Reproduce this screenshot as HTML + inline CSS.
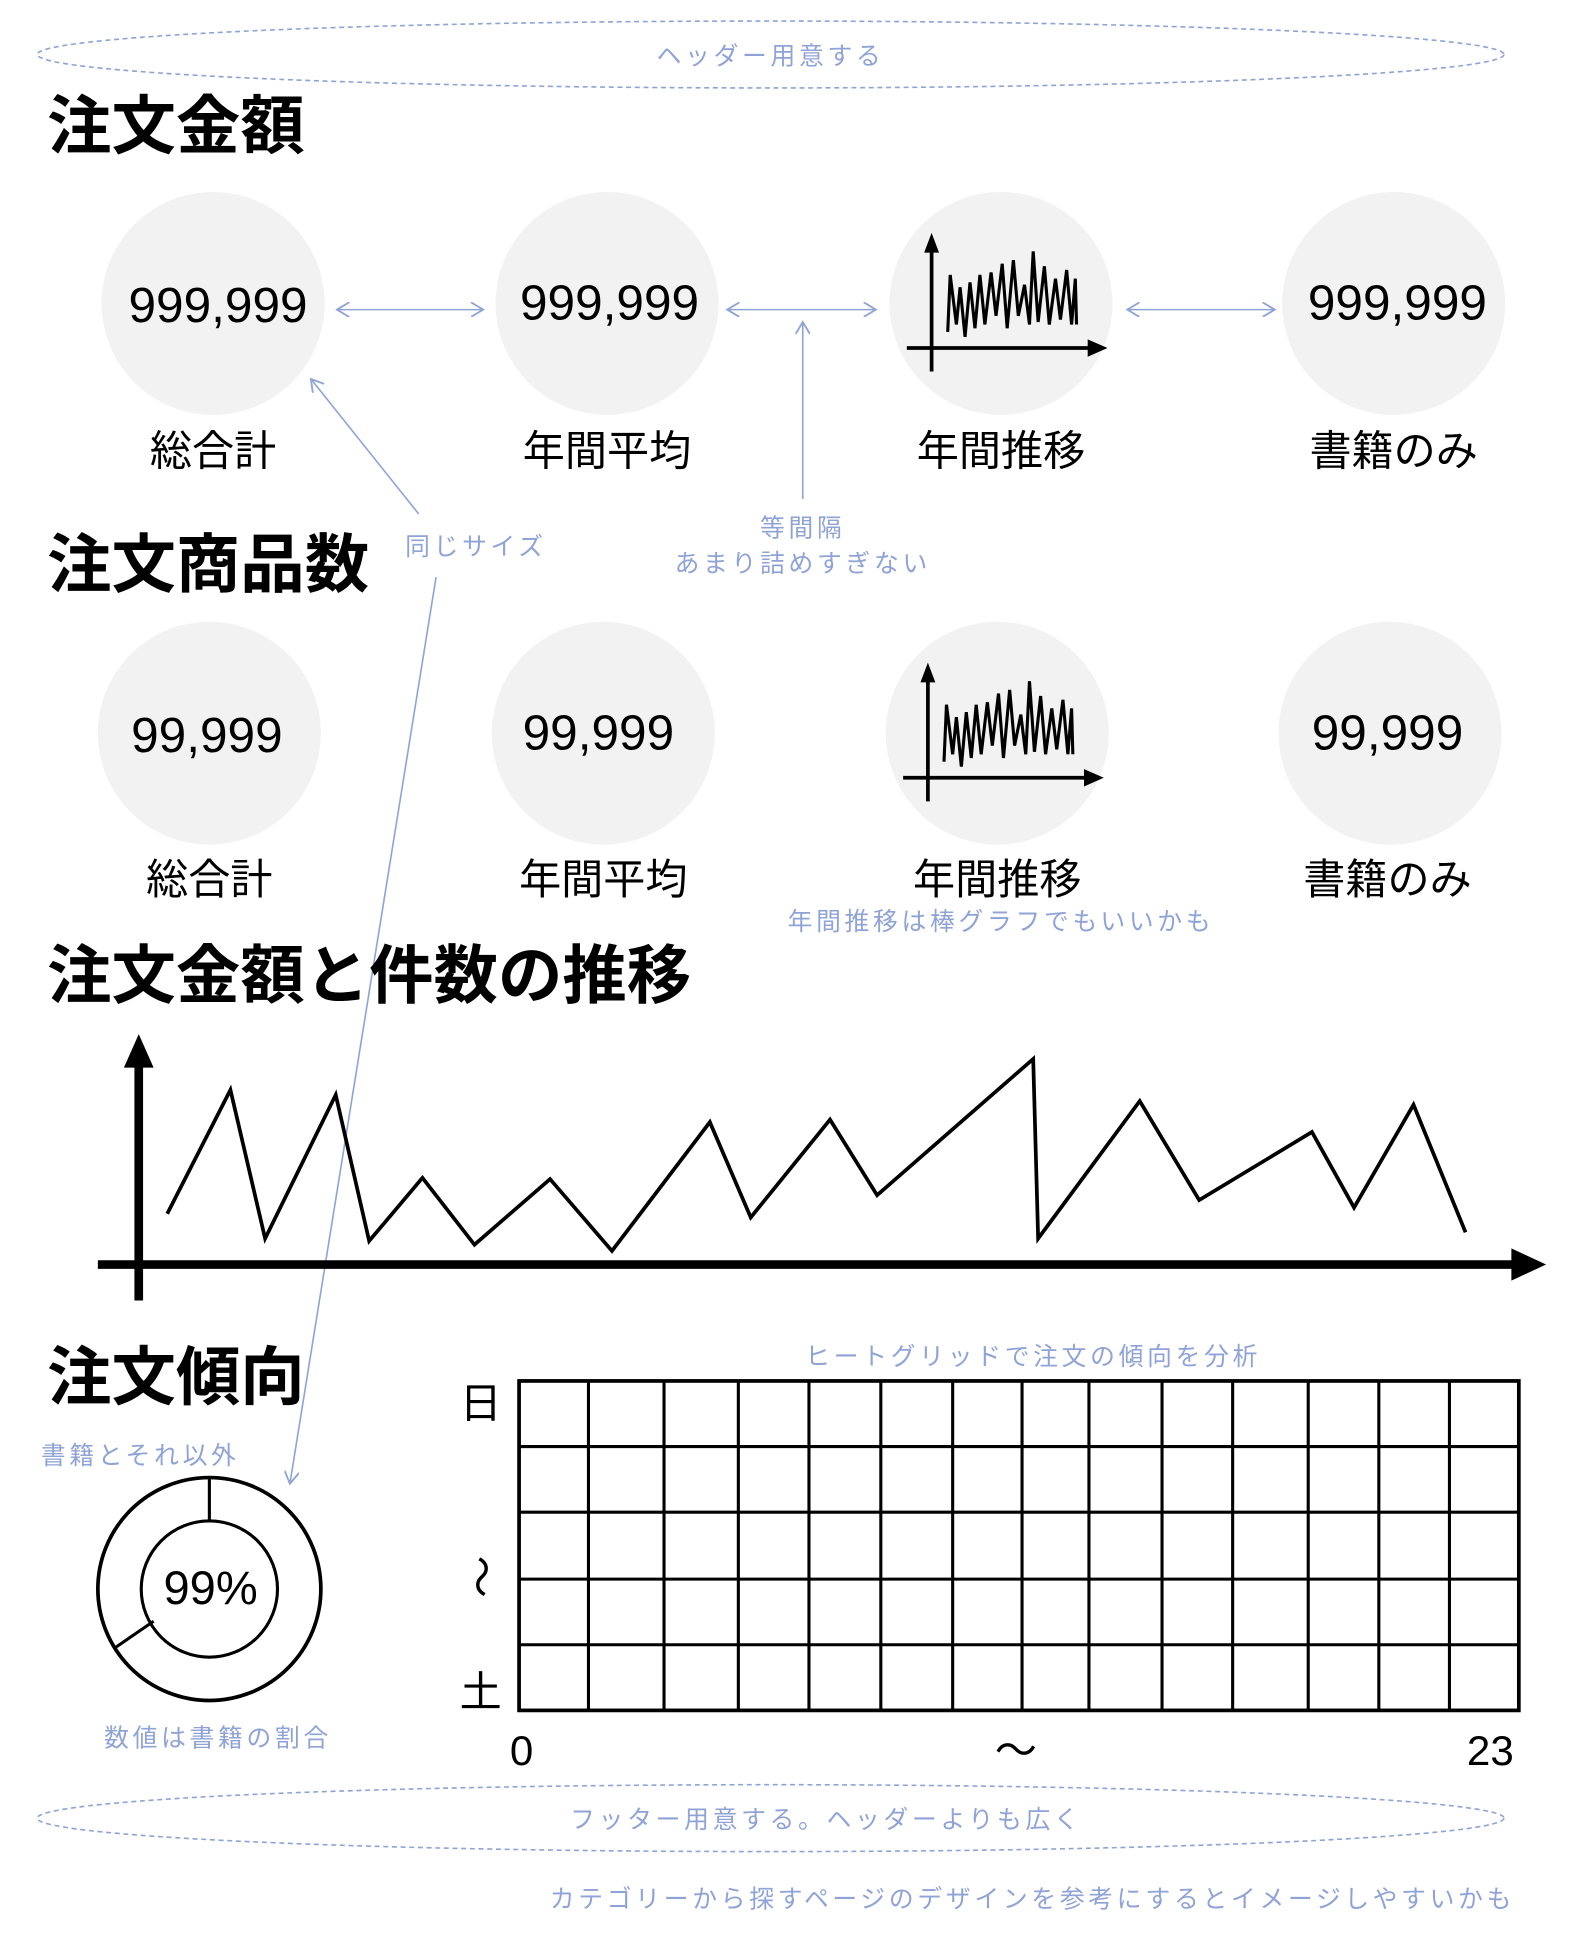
<!DOCTYPE html>
<html><head><meta charset="utf-8"><style>
html,body{margin:0;padding:0;background:#fff;}
svg{display:block;}
text{font-family:"Liberation Sans","Noto Sans CJK JP",sans-serif;}
.b{fill:#8fa3d6;font-size:20px;letter-spacing:3px;}
.h{font-weight:bold;font-size:52px;fill:#000;}
.n{font-size:40px;fill:#000;text-anchor:middle;}
.l{font-size:34px;fill:#000;text-anchor:middle;}
</style></head><body>
<svg width="1582" height="1942" viewBox="0 0 1277 1568" preserveAspectRatio="none" xmlns="http://www.w3.org/2000/svg">
<defs>
<marker id="oa" markerWidth="12" markerHeight="12" refX="10" refY="6" orient="auto-start-reverse" markerUnits="userSpaceOnUse"><path d="M0,0 L10,6 L0,12" fill="none" stroke="#8fa3d6" stroke-width="1.5"/></marker>
</defs>
<ellipse cx="622" cy="44" rx="592" ry="27" fill="none" stroke="#8fa3d6" stroke-width="1.3" stroke-dasharray="4,3"/>
<text class="b" x="622" y="52" text-anchor="middle">ヘッダー用意する</text>
<text class="h" x="38" y="120">注文金額</text>

<g fill="#f2f2f2">
<circle cx="172" cy="245" r="90"/><circle cx="490" cy="245" r="90"/><circle cx="808" cy="245" r="90"/><circle cx="1125" cy="245" r="90"/>
<circle cx="169" cy="592" r="90"/><circle cx="487" cy="592" r="90"/><circle cx="805" cy="592" r="90"/><circle cx="1122" cy="592" r="90"/>
</g>
<text class="n" x="176" y="260">999,999</text>
<text class="n" x="492" y="258">999,999</text>
<text class="n" x="1128" y="258">999,999</text>
<text class="l" x="172" y="376">総合計</text>
<text class="l" x="490" y="376">年間平均</text>
<text class="l" x="808" y="376">年間推移</text>
<text class="l" x="1125" y="376">書籍のみ</text>

<g stroke="#8fa3d6" stroke-width="1.3" fill="none">
<line x1="272" y1="250" x2="390" y2="250" marker-start="url(#oa)" marker-end="url(#oa)"/>
<line x1="587" y1="250" x2="707" y2="250" marker-start="url(#oa)" marker-end="url(#oa)"/>
<line x1="910" y1="250" x2="1029" y2="250" marker-start="url(#oa)" marker-end="url(#oa)"/>
<line x1="338" y1="415" x2="251" y2="306" marker-end="url(#oa)"/>
<line x1="648" y1="403" x2="648" y2="260" marker-end="url(#oa)"/>
<line x1="352" y1="466" x2="234" y2="1198" marker-end="url(#oa)"/>
</g>
<text class="b" x="327" y="448">同じサイズ</text>
<text class="b" x="648" y="433" text-anchor="middle">等間隔</text>
<text class="b" x="648" y="462" text-anchor="middle">あまり詰めすぎない</text>

<text class="h" x="38" y="474">注文商品数</text>
<text class="n" x="167" y="607">99,999</text>
<text class="n" x="483" y="605">99,999</text>
<text class="n" x="1120" y="605">99,999</text>
<text class="l" x="169" y="722">総合計</text>
<text class="l" x="487" y="722">年間平均</text>
<text class="l" x="805" y="722">年間推移</text>
<text class="l" x="1120" y="722">書籍のみ</text>
<text class="b" x="808" y="751" text-anchor="middle">年間推移は棒グラフでもいいかも</text>

<g id="ic">
<line x1="752" y1="200" x2="752" y2="300" stroke="#000" stroke-width="3"/>
<path d="M746,204 L752,188 L758,204Z" fill="#000"/>
<line x1="732" y1="281" x2="882" y2="281" stroke="#000" stroke-width="3"/>
<path d="M878,274 L894,281 L878,288Z" fill="#000"/>
<polyline points="765,268 767,222 772,262 775,232 779,272 783,228 787,265 791,222 795,262 800,220 804,255 809,213 813,265 818,210 822,255 827,230 831,262 834,203 838,260 843,215 847,262 852,225 856,258 861,218 865,262 868,225 869,262" fill="none" stroke="#000" stroke-width="2.5"/>
</g>
<use href="#ic" transform="translate(-3,347)"/>

<text class="h" x="38" y="806">注文金額と件数の推移</text>
<line x1="112" y1="1050" x2="112" y2="855" stroke="#000" stroke-width="7"/>
<path d="M100,862 L112,835 L124,862Z" fill="#000"/>
<line x1="79" y1="1021" x2="1225" y2="1021" stroke="#000" stroke-width="7"/>
<path d="M1220,1008 L1248,1021 L1220,1034Z" fill="#000"/>
<polyline points="135,980 186,880 214,1000 271,884 298,1002 341,951 383,1005 444,952 494,1010 573,906 606,983 670,904 708,965 834,855 838,1000 920,889 968,969 1059,914 1093,975 1141,892 1183,995" fill="none" stroke="#000" stroke-width="3"/>

<text class="h" x="38" y="1130">注文傾向</text>
<text class="b" x="33" y="1182">書籍とそれ以外</text>
<circle cx="169" cy="1283" r="90" fill="none" stroke="#000" stroke-width="3"/>
<circle cx="169" cy="1283" r="55" fill="none" stroke="#000" stroke-width="2.5"/>
<line x1="169" y1="1194" x2="169" y2="1228" stroke="#000" stroke-width="2.5"/>
<line x1="92" y1="1331" x2="124" y2="1309" stroke="#000" stroke-width="2.5"/>
<text class="n" x="170" y="1295" style="font-size:38px">99%</text>
<text class="b" x="176" y="1410" text-anchor="middle">数値は書籍の割合</text>

<text class="b" x="834" y="1102" text-anchor="middle">ヒートグリッドで注文の傾向を分析</text>
<g stroke="#000" stroke-width="2.5" fill="none">
<rect x="419" y="1115" width="807" height="266" stroke-width="3"/>
<line x1="419" y1="1168" x2="1226" y2="1168"/><line x1="419" y1="1221" x2="1226" y2="1221"/>
<line x1="419" y1="1275" x2="1226" y2="1275"/><line x1="419" y1="1328" x2="1226" y2="1328"/>
<line x1="475" y1="1115" x2="475" y2="1381"/><line x1="536" y1="1115" x2="536" y2="1381"/>
<line x1="596" y1="1115" x2="596" y2="1381"/><line x1="653" y1="1115" x2="653" y2="1381"/>
<line x1="711" y1="1115" x2="711" y2="1381"/><line x1="769" y1="1115" x2="769" y2="1381"/>
<line x1="825" y1="1115" x2="825" y2="1381"/><line x1="879" y1="1115" x2="879" y2="1381"/>
<line x1="938" y1="1115" x2="938" y2="1381"/><line x1="995" y1="1115" x2="995" y2="1381"/>
<line x1="1056" y1="1115" x2="1056" y2="1381"/><line x1="1113" y1="1115" x2="1113" y2="1381"/>
<line x1="1170" y1="1115" x2="1170" y2="1381"/>
</g>
<text class="l" x="388" y="1145">日</text>
<text class="l" x="0" y="0" transform="translate(376,1273) rotate(90)">～</text>
<text class="l" x="388" y="1378">土</text>
<text class="l" x="421" y="1425">0</text>
<text class="l" x="820" y="1425">～</text>
<text class="l" x="1203" y="1425">23</text>

<ellipse cx="622" cy="1468" rx="592" ry="27" fill="none" stroke="#8fa3d6" stroke-width="1.3" stroke-dasharray="4,3"/>
<text class="b" x="667" y="1476" text-anchor="middle">フッター用意する。ヘッダーよりも広く</text>
<text class="b" x="1223" y="1540" text-anchor="end">カテゴリーから探すページのデザインを参考にするとイメージしやすいかも</text>
</svg>
</body></html>
